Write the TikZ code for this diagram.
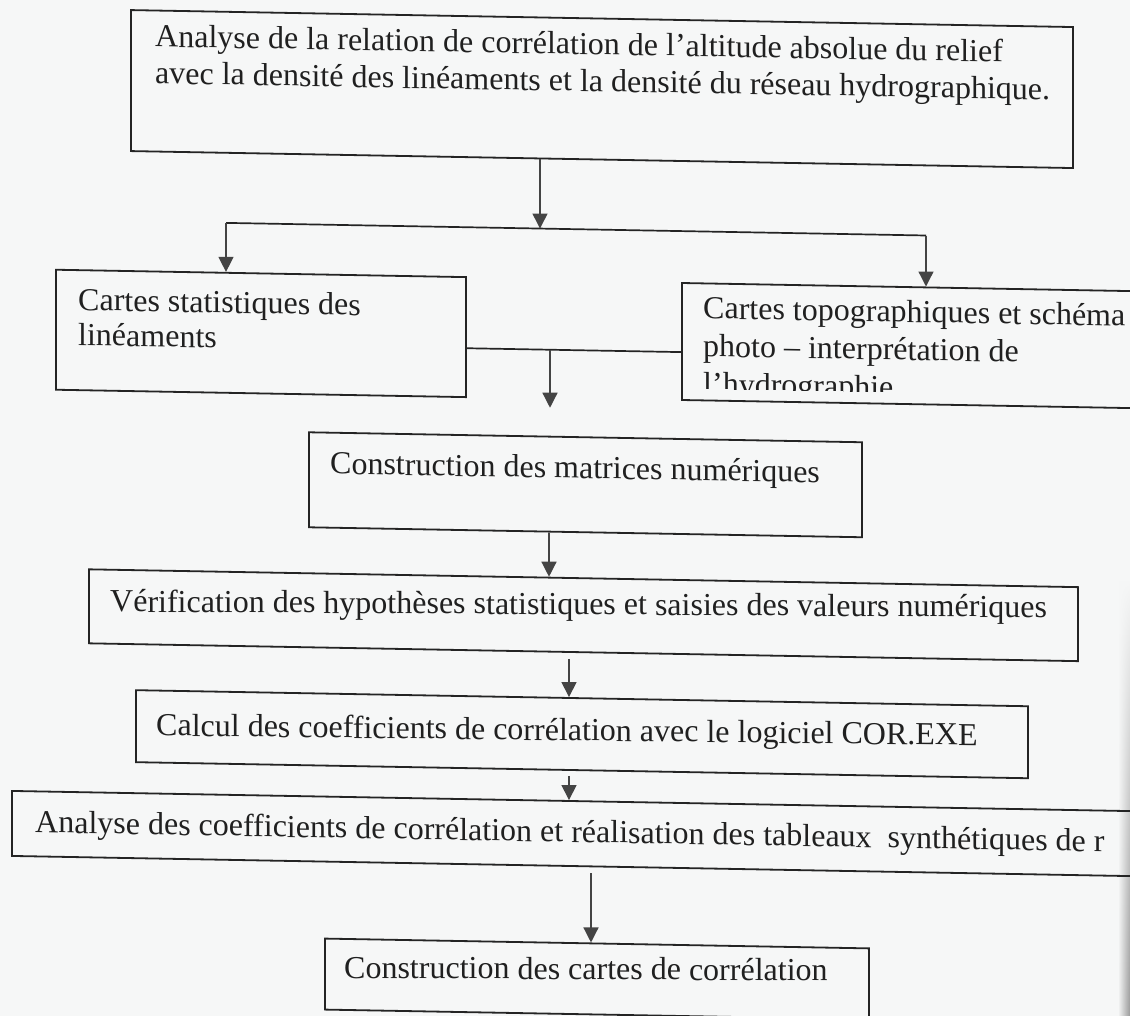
\documentclass[tikz,border=0pt]{standalone}
\usepackage{fontspec}
\setmainfont{Liberation Serif}[Ligatures={NoCommon}]
\usetikzlibrary{arrows.meta,fadings}
\definecolor{paper}{RGB}{246,247,247}
\definecolor{ink}{RGB}{32,32,32}
\definecolor{edge}{RGB}{36,36,36}
\definecolor{arrowc}{RGB}{68,68,68}
\begin{document}
\begin{tikzpicture}[x=1pt,y=-1pt,
  boxnode/.style={draw=edge, line width=1.8pt, rectangle, inner sep=0pt, anchor=north west},
  txt/.style={anchor=base west, inner sep=0pt, text=ink, font=\fontsize{32}{37}\selectfont},
  flat/.style={yslant=0.012},
  arr/.style={draw=arrowc, line width=1.3pt, -{Triangle[width=15pt,length=15pt]}},
  link/.style={draw=edge, line width=1.7pt}]
\fill[paper] (0,0) rectangle (1130,1016);
\useasboundingbox (0,0) rectangle (1130,1016);
\shade[left color=paper, right color=black!40, path fading=north] (1118,580) rectangle (1130,1016);
\begin{scope}[cm={1,-0.018,0,1,(0pt,10.17pt)}, transform shape]
  % boxes
  \node[boxnode, minimum width=942pt, minimum height=141pt] (b1) at (130,17) {};
  \node[boxnode, minimum width=410pt, minimum height=120pt] (b2) at (55,278) {};
  \node[boxnode, minimum width=470pt, minimum height=117pt] (b3) at (681,280) {};
  \node[boxnode, minimum width=553pt, minimum height=95pt] (b4) at (308,436) {};
  \node[boxnode, minimum width=989pt, minimum height=74pt] (b5) at (88,577) {};
  \node[boxnode, minimum width=892pt, minimum height=72pt] (b6) at (135,697) {};
  \node[boxnode, minimum width=1140pt, minimum height=65pt] (b7) at (11,800) {};
  \node[boxnode, minimum width=544pt, minimum height=71pt] (b8) at (324,942) {};
  % texts
  \node[txt] (t1a) at (155,54) {Analyse de la relation de corrélation de l’altitude absolue du relief};
  \node[txt] (t1b) at (155,91) {avec la densité des linéaments et la densité du réseau hydrographique.};
  \node[txt] (t2a) at (78,319) {Cartes statistiques des};
  \node[txt] (t2b) at (78,354) {linéaments};
  \begin{scope}
    \clip (682,282) rectangle (1140,386);
    \node[txt] (t3a) at (703,316) {Cartes topographiques et schéma};
    \node[txt] (t3b) at (703,354) {photo – interprétation de};
    \node[txt] (t3c) at (703,392) {l’hydrographie};
  \end{scope}
  \node[txt] (t4) at (330,478) {Construction des matrices numériques};
  \node[txt, flat] (t5) at (110,620) {Vérification des hypothèses statistiques et saisies des valeurs numériques};
  \node[txt, yslant=0.006] (t6) at (156,743) {Calcul des coefficients de corrélation avec le logiciel COR.EXE};
  \node[txt] (t7) at (35,842) {Analyse des coefficients de corrélation et réalisation des tableaux~ synthétiques de r};
  \node[txt, flat] (t8) at (344,982) {Construction des cartes de corrélation};
  % connector coordinates
  \coordinate (jm) at (540,229);
  \coordinate (jL) at (226,229);
  \coordinate (jR) at (926,229);
  \coordinate (cm) at (550,350);
  \coordinate (cmE) at (550,408);
  \coordinate (x4) at (549,0);
  \coordinate (x5) at (569,0);
  \coordinate (x7) at (591,0);
  % connectors
  \draw[arr] (b1.south -| jm) -- (jm);
  \draw[link] (jL) -- (jR);
  \draw[arr] (jL) -- (jL |- b2.north);
  \draw[arr] (jR) -- (jR |- b3.north);
  \draw[link] (cm -| b2.east) -- (cm -| b3.west);
  \draw[arr] (cm) -- (cmE);
  \draw[arr] (b4.south -| x4) -- (b5.north -| x4);
  \draw[arr, shorten <=6pt] (b5.south -| x5) -- (b6.north -| x5);
  \draw[arr, shorten <=5pt] (b6.south -| x5) -- (b7.north -| x5);
  \draw[arr, shorten <=6pt] (b7.south -| x7) -- (b8.north -| x7);
\end{scope}
\end{tikzpicture}
\end{document}
